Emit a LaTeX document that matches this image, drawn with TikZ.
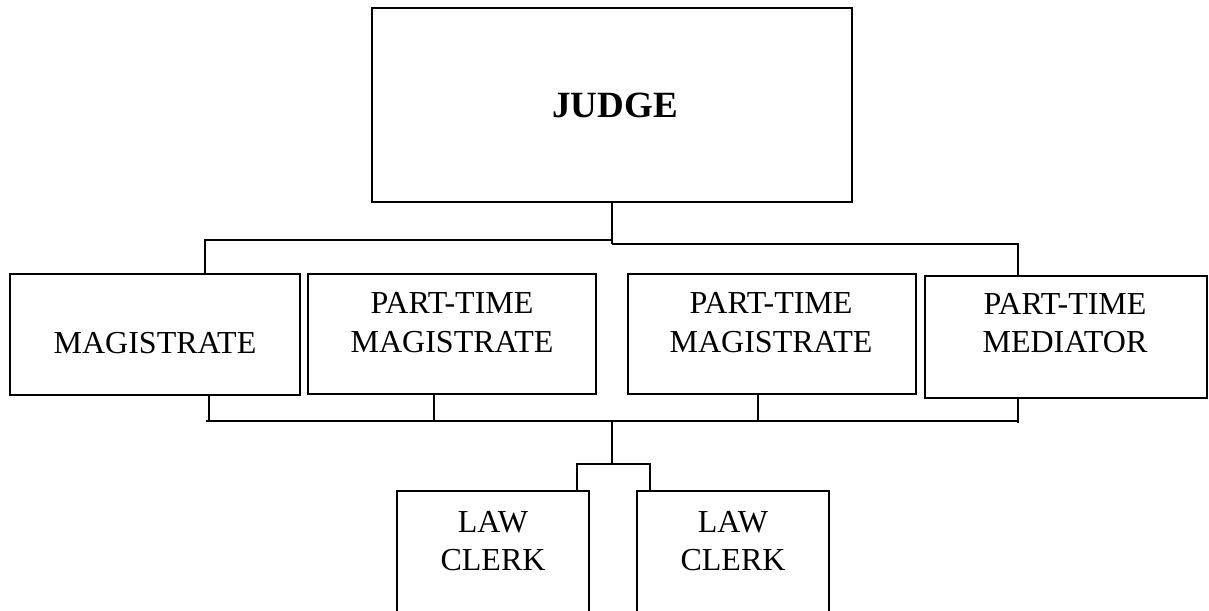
\documentclass[tikz,border=0pt]{standalone}
\usepackage{fontspec}
\setmainfont{Liberation Serif}
\begin{document}
\begin{tikzpicture}[x=1pt,y=-1pt,
  box/.style={draw, line width=1.6pt, rectangle, inner sep=0pt},
  link/.style={line width=1.6pt},
  lbl/.style={font=\fontsize{32}{39}\selectfont, align=center, anchor=base, inner sep=0pt},
]
\useasboundingbox (0,0) rectangle (1209,610);
\clip (0,0) rectangle (1209,610);

% boxes
\node[box, minimum width=480pt, minimum height=194pt] (judge) at (612,105) {};
\node[box, minimum width=290pt, minimum height=121pt] (mag) at (155,334.5) {};
\node[box, minimum width=288pt, minimum height=120pt] (ptm1) at (452,334) {};
\node[box, minimum width=288pt, minimum height=120pt] (ptm2) at (772,334) {};
\node[box, minimum width=282pt, minimum height=122pt] (med) at (1066,337) {};
\node[box, minimum width=192pt, minimum height=160pt] (clerk1) at (493,571) {};
\node[box, minimum width=192pt, minimum height=160pt] (clerk2) at (733,571) {};

% labels (base anchor sits on the last line's baseline)
\node[lbl, font=\fontsize{37}{40}\selectfont\bfseries] (tjudge) at (615,117) {JUDGE};
\node[lbl] (tmag) at (155,353) {MAGISTRATE};
\node[lbl] (tptm1) at (452,352) {PART-TIME\\MAGISTRATE};
\node[lbl] (tptm2) at (771,352) {PART-TIME\\MAGISTRATE};
\node[lbl, font=\fontsize{32}{38}\selectfont] (tmed) at (1065,352) {PART-TIME\\MEDIATOR};
\node[lbl, font=\fontsize{32}{38}\selectfont] (tclerk1) at (493,570) {LAW\\CLERK};
\node[lbl, font=\fontsize{32}{38}\selectfont] (tclerk2) at (733,570) {LAW\\CLERK};

% judge to first tier
\coordinate (jbus) at (612,244);
\draw[link] (judge.south) -- (jbus);
\draw[link] (judge.south |- 0,240) -| ([xshift=50pt]mag.north);
\draw[link] (jbus) -| ([xshift=-48pt]med.north);

% first tier to shared bus
\coordinate (lbus) at (612,421);
\draw[link] ([xshift=54pt]mag.south) -- ++(0,26);
\draw[link] ([xshift=-18pt]ptm1.south) -- ++(0,27);
\draw[link] ([xshift=-14pt]ptm2.south) -- ++(0,26);
\draw[link] ([xshift=-48pt]med.south) -- ++(0,24);
\draw[link] (206,421) -- (1018,421);

% bus to law clerks
\coordinate (cbus) at (612,464);
\draw[link] (lbus) -- (cbus);
\draw[link] ([xshift=84pt]clerk1.north) |- (cbus) -| ([xshift=-83pt]clerk2.north);
\end{tikzpicture}
\end{document}
